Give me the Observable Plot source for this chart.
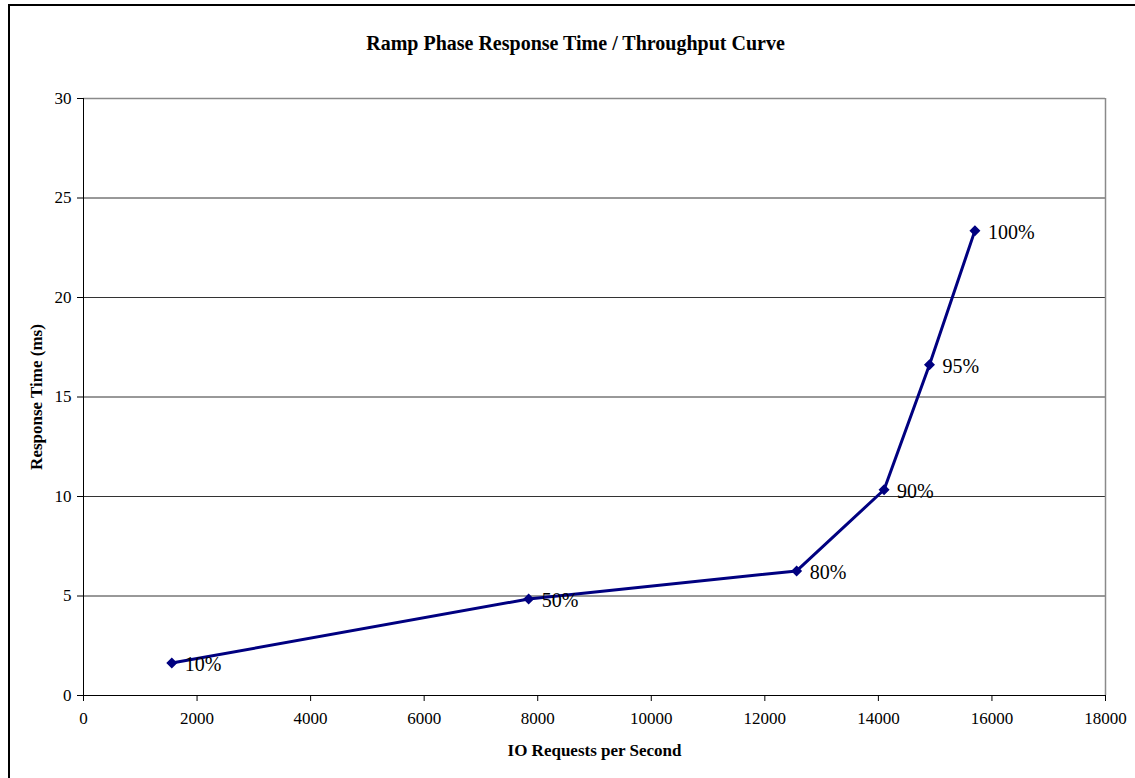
<!DOCTYPE html>
<html>
<head>
<meta charset="utf-8">
<script src="https://cdn.jsdelivr.net/npm/d3@7"></script>
<script src="https://cdn.jsdelivr.net/npm/@observablehq/plot@0.6"></script>
<style>
  html, body { margin: 0; padding: 0; background: #fff; }
  #wrap { position: relative; width: 1135px; height: 778px; overflow: hidden; }
  #border { position: absolute; left: 8px; top: 4px; width: 1200px; height: 900px;
            border-left: 2px solid #000; border-top: 2px solid #000; box-sizing: border-box; }
  #chart { position: absolute; left: 0; top: 0; }
</style>
</head>
<body>
<div id="wrap">
  <div id="border"></div>
  <div id="chart"></div>
</div>
<script>
const title = "Ramp Phase Response Time / Throughput Curve";
const xLabel = "IO Requests per Second";
const yLabel = "Response Time (ms)";

const loadLabels = ["10%", "50%", "80%", "90%", "95%", "100%"];
const iops = [1555, 7840, 12560, 14100, 14900, 15700];
const responseMs = [1.63, 4.85, 6.26, 10.34, 16.62, 23.36];

const xTicks = [0, 2000, 4000, 6000, 8000, 10000, 12000, 14000, 16000, 18000];
const yTicks = [0, 5, 10, 15, 20, 25, 30];

const data = loadLabels.map((l, i) => ({ label: l, x: iops[i], y: responseMs[i] }));

const serif = "'Liberation Serif', 'Times New Roman', serif";

const plot = Plot.plot({
  width: 1135,
  height: 778,
  marginTop: 98,
  marginRight: 30,
  marginBottom: 83,
  marginLeft: 83,
  style: { fontFamily: serif, fontSize: "17px", color: "#000", background: "transparent", overflow: "visible" },
  x: { domain: [0, 18000] },
  y: { domain: [0, 30] },
  marks: [
    Plot.ruleY(yTicks.filter(d => d > 0 && d < 30), { stroke: "#333", strokeWidth: 1, strokeOpacity: 1 }),
    Plot.ruleY([30], { stroke: "#8a8a8a", strokeWidth: 1.5, strokeOpacity: 1 }),
    Plot.ruleX([18000], { stroke: "#8a8a8a", strokeWidth: 1.5, strokeOpacity: 1 }),
    Plot.ruleY([0], { stroke: "#000", strokeWidth: 1, strokeOpacity: 1 }),
    Plot.ruleX([0], { stroke: "#000", strokeWidth: 1, strokeOpacity: 1 }),
    Plot.axisX({ ticks: xTicks, tickFormat: d => String(d), tickSize: 6, tickPadding: 10, fontSize: 17, label: null, stroke: "#000" }),
    Plot.axisY({ ticks: yTicks, tickFormat: d => String(d), tickSize: 6, tickPadding: 6, fontSize: 17, label: null, stroke: "#000" }),
    Plot.line(data, { x: "x", y: "y", stroke: "#000080", strokeWidth: 3 }),
    Plot.dot(data, { x: "x", y: "y", symbol: "diamond2", fill: "#000080", stroke: "#000080", r: 4 }),
    Plot.text(data, { x: "x", y: "y", text: "label", dx: 13, dy: 2, textAnchor: "start", fontSize: 20, fill: "#000" }),
    Plot.text([title], { frameAnchor: "top", dx: -19, dy: -63, fontSize: 20, fontWeight: "bold", fill: "#000" }),
    Plot.text([xLabel], { frameAnchor: "bottom", dy: 60, fontSize: 17, fontWeight: "bold", fill: "#000" }),
    Plot.text([yLabel], { frameAnchor: "left", textAnchor: "middle", dx: -47, rotate: -90, fontSize: 17, fontWeight: "bold", fill: "#000" })
  ]
});
document.getElementById("chart").appendChild(plot);
</script>
</body>
</html>
